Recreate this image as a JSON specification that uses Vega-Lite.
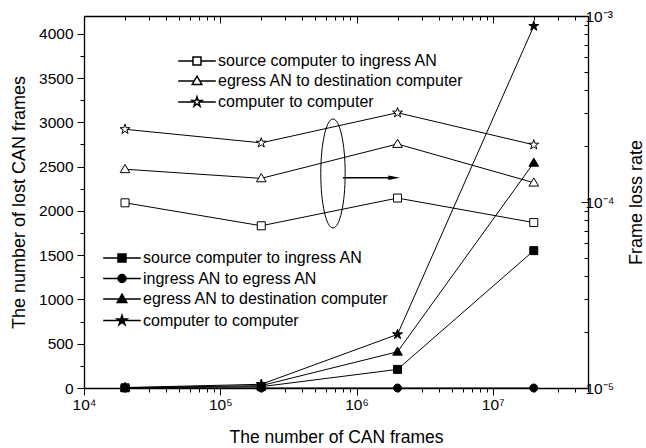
{
  "$schema": "https://vega.github.io/schema/vega-lite/v6.json",
  "width": 504,
  "height": 372,
  "autosize": "none",
  "padding": {"left": 84, "top": 16, "right": 58, "bottom": 60},
  "background": "white",
  "config": {
    "view": {"stroke": null},
    "font": "Liberation Sans",
    "axis": {
      "grid": false,
      "labelFont": "Liberation Sans",
      "titleFont": "Liberation Sans",
      "labelColor": "black",
      "titleColor": "black",
      "domainColor": "black",
      "domainWidth": 1.3,
      "tickColor": "#000000",
      "labelFontSize": 15.5,
      "titleFontSize": 18,
      "titleFontWeight": "normal",
      "labelOverlap": false,
      "labelFlush": false
    },
    "legend": {
      "labelFont": "Liberation Sans",
      "labelFontSize": 16,
      "labelColor": "black",
      "labelLimit": 400,
      "padding": 0,
      "symbolSize": 64
    }
  },
  "datasets": {
    "lost": [
      {"frames": 20000, "series": "source computer to ingress AN", "lost": 2},
      {"frames": 200000, "series": "source computer to ingress AN", "lost": 15},
      {"frames": 2000000, "series": "source computer to ingress AN", "lost": 210},
      {"frames": 20000000, "series": "source computer to ingress AN", "lost": 1551},
      {"frames": 20000, "series": "ingress AN to egress AN", "lost": 0},
      {"frames": 200000, "series": "ingress AN to egress AN", "lost": 0},
      {"frames": 2000000, "series": "ingress AN to egress AN", "lost": 0},
      {"frames": 20000000, "series": "ingress AN to egress AN", "lost": 0},
      {"frames": 20000, "series": "egress AN to destination computer", "lost": 3},
      {"frames": 200000, "series": "egress AN to destination computer", "lost": 27},
      {"frames": 2000000, "series": "egress AN to destination computer", "lost": 409},
      {"frames": 20000000, "series": "egress AN to destination computer", "lost": 2542},
      {"frames": 20000, "series": "computer to computer", "lost": 5},
      {"frames": 200000, "series": "computer to computer", "lost": 42},
      {"frames": 2000000, "series": "computer to computer", "lost": 605},
      {"frames": 20000000, "series": "computer to computer", "lost": 4086}
    ],
    "rate": [
      {"frames": 20000, "series": "source computer to ingress AN", "rate": 0.0000990},
      {"frames": 200000, "series": "source computer to ingress AN", "rate": 0.0000745},
      {"frames": 2000000, "series": "source computer to ingress AN", "rate": 0.000105},
      {"frames": 20000000, "series": "source computer to ingress AN", "rate": 0.0000775},
      {"frames": 20000, "series": "egress AN to destination computer", "rate": 0.000150},
      {"frames": 200000, "series": "egress AN to destination computer", "rate": 0.000134},
      {"frames": 2000000, "series": "egress AN to destination computer", "rate": 0.000205},
      {"frames": 20000000, "series": "egress AN to destination computer", "rate": 0.000127},
      {"frames": 20000, "series": "computer to computer", "rate": 0.000246},
      {"frames": 200000, "series": "computer to computer", "rate": 0.000208},
      {"frames": 2000000, "series": "computer to computer", "rate": 0.000302},
      {"frames": 20000000, "series": "computer to computer", "rate": 0.000203}
    ]
  },
  "layer": [
    {
      "data": {"name": "lost"},
      "mark": {"type": "line", "color": "black", "strokeWidth": 1},
      "encoding": {
        "x": {
          "field": "frames", "type": "quantitative",
          "scale": {"type": "log", "domain": [10000, 50000000], "nice": false},
          "axis": {
            "orient": "bottom",
            "title": "The number of CAN frames",
            "titlePadding": 16,
            "titleFontSize": 17.5,
            "values": [10000, 100000, 1000000, 10000000],
            "labelExpr": "datum.value == 10000 ? '10⁴' : datum.value == 100000 ? '10⁵' : datum.value == 1000000 ? '10⁶' : '10⁷'",
            "tickSize": 7,
            "labelPadding": 2
          }
        },
        "y": {
          "field": "lost", "type": "quantitative",
          "scale": {"domain": [0, 4200], "nice": false},
          "axis": {
            "orient": "left",
            "title": "The number of lost CAN frames",
            "titlePadding": 10,
            "values": [0, 500, 1000, 1500, 2000, 2500, 3000, 3500, 4000],
            "format": "d",
            "tickSize": 7,
            "labelPadding": 4
          }
        },
        "detail": {"field": "series"}
      }
    },
    {
      "data": {"name": "rate"},
      "mark": {"type": "line", "color": "black", "strokeWidth": 1},
      "encoding": {
        "x": {
          "field": "frames", "type": "quantitative",
          "scale": {"type": "log", "domain": [10000, 50000000], "nice": false},
          "axis": {
            "orient": "top",
            "title": null,
            "labels": false,
            "values": [10000, 100000, 1000000, 10000000],
            "tickSize": -7
          }
        },
        "y": {
          "field": "rate", "type": "quantitative",
          "scale": {"type": "log", "domain": [0.00001, 0.001], "nice": false},
          "axis": {
            "orient": "right",
            "title": "Frame loss rate",
            "titleAngle": 270,
            "titlePadding": 32,
            "values": [0.00001, 0.0001, 0.001],
            "labelExpr": "datum.value == 0.00001 ? '10⁻⁵' : datum.value == 0.0001 ? '10⁻⁴' : '10⁻³'",
            "tickSize": -7,
            "labelPadding": 4
          }
        },
        "detail": {"field": "series"}
      }
    },
    {
      "data": {"name": "lost"},
      "mark": {"type": "point", "filled": true, "fill": "black", "stroke": "black", "strokeWidth": 1, "size": 64, "opacity": 1},
      "encoding": {
        "x": {
          "field": "frames", "type": "quantitative",
          "scale": {"type": "log", "domain": [10000, 50000000], "nice": false},
          "axis": {
            "orient": "bottom",
            "title": null,
            "labels": false,
            "domain": false,
            "values": [20000, 30000, 40000, 50000, 60000, 70000, 80000, 90000, 200000, 300000, 400000, 500000, 600000, 700000, 800000, 900000, 2000000, 3000000, 4000000, 5000000, 6000000, 7000000, 8000000, 9000000, 20000000, 30000000, 40000000, 50000000],
            "tickSize": 4
          }
        },
        "y": {
          "field": "lost", "type": "quantitative",
          "scale": {"domain": [0, 4200], "nice": false},
          "axis": {
            "orient": "left",
            "title": null,
            "labels": false,
            "domain": false,
            "values": [250, 750, 1250, 1750, 2250, 2750, 3250, 3750],
            "tickSize": 4
          }
        },
        "shape": {
          "field": "series",
          "type": "nominal",
          "scale": {
            "domain": ["source computer to ingress AN", "ingress AN to egress AN", "egress AN to destination computer", "computer to computer"],
            "range": [
              "M-1,-1H1V1H-1Z",
              "M-1,0A1,1,0,1,0,1,0A1,1,0,1,0,-1,0Z",
              "M0,-1.2L1.2,0.85H-1.2Z",
              "M0,-1.3L0.292,-0.402L1.236,-0.402L0.473,0.154L0.764,1.052L0,0.497L-0.764,1.052L-0.473,0.154L-1.236,-0.402L-0.292,-0.402Z"
            ]
          },
          "legend": null
        }
      }
    },
    {
      "data": {"name": "rate"},
      "mark": {"type": "point", "filled": true, "fill": "white", "stroke": "black", "strokeWidth": 1, "size": 64, "opacity": 1},
      "encoding": {
        "x": {
          "field": "frames", "type": "quantitative",
          "scale": {"type": "log", "domain": [10000, 50000000], "nice": false},
          "axis": {
            "orient": "top",
            "title": null,
            "labels": false,
            "domain": false,
            "values": [20000, 30000, 40000, 50000, 60000, 70000, 80000, 90000, 200000, 300000, 400000, 500000, 600000, 700000, 800000, 900000, 2000000, 3000000, 4000000, 5000000, 6000000, 7000000, 8000000, 9000000, 20000000, 30000000, 40000000, 50000000],
            "tickSize": -4
          }
        },
        "y": {
          "field": "rate", "type": "quantitative",
          "scale": {"type": "log", "domain": [0.00001, 0.001], "nice": false},
          "axis": {
            "orient": "right",
            "title": null,
            "labels": false,
            "domain": false,
            "values": [0.00002, 0.00003, 0.00004, 0.00005, 0.00006, 0.00007, 0.00008, 0.00009, 0.0002, 0.0003, 0.0004, 0.0005, 0.0006, 0.0007, 0.0008, 0.0009],
            "tickSize": -4
          }
        },
        "shape": {
          "field": "series",
          "type": "nominal",
          "scale": {
            "domain": ["source computer to ingress AN", "egress AN to destination computer", "computer to computer"],
            "range": [
              "M-1,-1H1V1H-1Z",
              "M0,-1.2L1.2,0.85H-1.2Z",
              "M0,-1.3L0.292,-0.402L1.236,-0.402L0.473,0.154L0.764,1.052L0,0.497L-0.764,1.052L-0.473,0.154L-1.236,-0.402L-0.292,-0.402Z"
            ]
          },
          "legend": null
        }
      }
    },
    {
      "data": {"values": []},
      "mark": {"type": "point", "filled": false, "fill": "#000000", "stroke": "#000000", "strokeWidth": 1, "size": 64, "opacity": 1},
      "encoding": {
        "x": {"field": "frames", "type": "quantitative", "scale": {"type": "log", "domain": [10000, 50000000], "nice": false}, "axis": null},
        "y": {"field": "lost", "type": "quantitative", "scale": {"domain": [0, 4200], "nice": false}, "axis": null},
        "shape": {
          "field": "series",
          "type": "nominal",
          "scale": {
            "domain": ["source computer to ingress AN", "ingress AN to egress AN", "egress AN to destination computer", "computer to computer"],
            "range": [
              "M-4.7,0H-1M1,0H4.7M-1,-1H1V1H-1Z",
              "M-4.7,0H-1M1,0H4.7M-1,0A1,1,0,1,0,1,0A1,1,0,1,0,-1,0Z",
              "M-4.7,0H-0.7M0.7,0H4.7M0,-1.2L1.2,0.85H-1.2Z",
              "M-4.7,0H-0.68M0.68,0H4.7M0,-1.3L0.292,-0.402L1.236,-0.402L0.473,0.154L0.764,1.052L0,0.497L-0.764,1.052L-0.473,0.154L-1.236,-0.402L-0.292,-0.402Z"
            ]
          },
          "legend": {
            "orient": "none",
            "legendX": 30,
            "legendY": 234,
            "title": null,
            "symbolFillColor": "#000000",
            "rowPadding": 4.5,
            "labelOffset": 13
          }
        }
      }
    },
    {
      "data": {"values": []},
      "mark": {"type": "point", "filled": false, "stroke": "#000000", "strokeWidth": 1, "size": 64, "opacity": 1},
      "encoding": {
        "x": {"field": "frames", "type": "quantitative", "scale": {"type": "log", "domain": [10000, 50000000], "nice": false}, "axis": null},
        "y": {"field": "rate", "type": "quantitative", "scale": {"type": "log", "domain": [0.00001, 0.001], "nice": false}, "axis": null},
        "shape": {
          "field": "series",
          "type": "nominal",
          "scale": {
            "domain": ["source computer to ingress AN", "egress AN to destination computer", "computer to computer"],
            "range": [
              "M-4.7,0H-1M1,0H4.7M-1,-1H1V1H-1Z",
              "M-4.7,0H-0.7M0.7,0H4.7M0,-1.2L1.2,0.85H-1.2Z",
              "M-4.7,0H-0.68M0.68,0H4.7M0,-1.3L0.292,-0.402L1.236,-0.402L0.473,0.154L0.764,1.052L0,0.497L-0.764,1.052L-0.473,0.154L-1.236,-0.402L-0.292,-0.402Z"
            ]
          },
          "legend": {
            "orient": "none",
            "legendX": 105,
            "legendY": 37,
            "title": null,
            "symbolFillColor": "#ffffff",
            "rowPadding": 4,
            "labelOffset": 13
          }
        }
      }
    },
    {
      "data": {"values": [{"frames": 672000, "lost": 2422}]},
      "mark": {"type": "point", "shape": "M0,-4.467A1,4.467,0,1,1,0,4.467A1,4.467,0,1,1,0,-4.467Z", "size": 595, "filled": false, "stroke": "black", "strokeWidth": 1, "opacity": 1},
      "encoding": {
        "x": {"field": "frames", "type": "quantitative", "scale": {"type": "log", "domain": [10000, 50000000], "nice": false}, "axis": null},
        "y": {"field": "lost", "type": "quantitative", "scale": {"domain": [0, 4200], "nice": false}, "axis": null}
      }
    },
    {
      "data": {"values": [{"frames": 796000, "frames2": 1762000, "lost": 2374}]},
      "mark": {"type": "rule", "color": "black", "strokeWidth": 1.6},
      "encoding": {
        "x": {"field": "frames", "type": "quantitative", "scale": {"type": "log", "domain": [10000, 50000000], "nice": false}, "axis": null},
        "x2": {"field": "frames2"},
        "y": {"field": "lost", "type": "quantitative", "scale": {"domain": [0, 4200], "nice": false}, "axis": null}
      }
    },
    {
      "data": {"values": [{"frames": 1890000, "lost": 2374}]},
      "mark": {"type": "point", "shape": "M1,0L-1,-0.4L-1,0.4Z", "size": 137, "filled": true, "fill": "black", "strokeWidth": 0, "opacity": 1},
      "encoding": {
        "x": {"field": "frames", "type": "quantitative", "scale": {"type": "log", "domain": [10000, 50000000], "nice": false}, "axis": null},
        "y": {"field": "lost", "type": "quantitative", "scale": {"domain": [0, 4200], "nice": false}, "axis": null}
      }
    }
  ],
  "resolve": {
    "scale": {"y": "independent", "shape": "independent"},
    "axis": {"x": "independent", "y": "independent"},
    "legend": {"shape": "independent"}
  }
}
